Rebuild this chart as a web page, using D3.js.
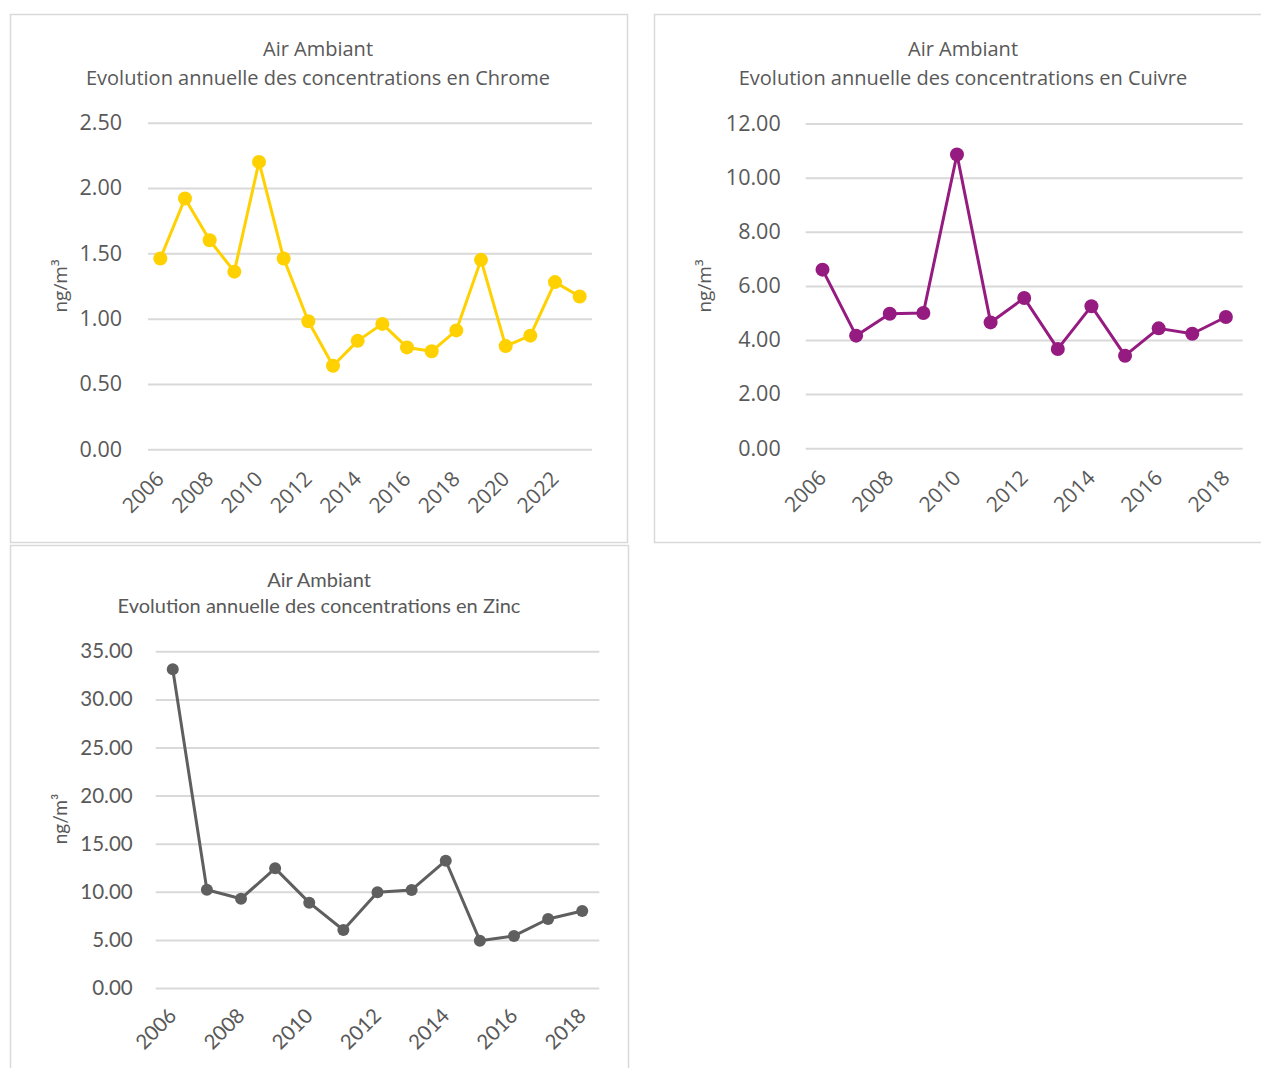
<!DOCTYPE html>
<html lang="fr">
    <head>
        <meta charset="utf-8">
        <title>Air Ambiant - concentrations</title>
        <script src="https://d3js.org/d3.v7.min.js"></script>
        <style>
            body { margin: 0; background: #fff; }
            svg { display: block; }
        </style>
    </head>
    <body>
        <script type="text/javascript">

            //categories (years) for each chart
            var chromeYears = ["2006","2007","2008","2009","2010","2011","2012","2013","2014","2015",
                               "2016","2017","2018","2019","2020","2021","2022","2023"];
            var cuivreYears = ["2006","2007","2008","2009","2010","2011","2012","2013","2014","2015",
                               "2016","2017","2018"];
            var zincYears = ["2006","2007","2008","2009","2010","2011","2012","2013","2014","2015",
                             "2016","2017","2018"];

            //values (ng/m3)
            var chromeValues = [1.46, 1.92, 1.60, 1.36, 2.20, 1.46, 0.98, 0.64, 0.83, 0.96,
                                0.78, 0.75, 0.91, 1.45, 0.79, 0.87, 1.28, 1.17];
            var cuivreValues = [6.60, 4.16, 4.97, 5.00, 10.86, 4.65, 5.55, 3.67, 5.25, 3.42,
                                4.43, 4.23, 4.85];
            var zincValues = [33.13, 10.22, 9.28, 12.44, 8.87, 6.03, 9.95, 10.19, 13.23, 4.92,
                              5.41, 7.17, 8.00];

            //y axis ticks
            var chromeTicks = [0, 0.5, 1.0, 1.5, 2.0, 2.5];
            var cuivreTicks = [0, 2, 4, 6, 8, 10, 12];
            var zincTicks = [0, 5, 10, 15, 20, 25, 30, 35];

            var titleTop = "Air Ambiant";
            var unitLabel = "ng/m\u00B3";

            var textColor = "#595959";
            var gridColor = "#d9d9d9";

            var svg = d3.select("body")
                .append("svg")
                .attr("width", 1261)
                .attr("height", 1068);

            function drawPanel(cfg) {
                //frame around the chart
                svg.append("rect")
                    .attr("x", cfg.box[0] + 0.5)
                    .attr("y", cfg.box[1] + 0.5)
                    .attr("width", cfg.box[2])
                    .attr("height", cfg.box[3])
                    .attr("fill", "#fff")
                    .attr("stroke", "#d9d9d9")
                    .attr("stroke-width", 1.5);

                var g = svg.append("g");

                var xScale = d3.scaleBand()
                    .domain(cfg.years)
                    .range([cfg.left, cfg.right])
                    .padding(0);

                var yScale = d3.scaleLinear()
                    .domain([0, d3.max(cfg.ticks)])
                    .range([cfg.bottom, cfg.top]);

                var half = xScale.bandwidth() / 2;

                //titles
                g.append("text")
                    .text(titleTop)
                    .attr("x", cfg.titleX)
                    .attr("y", cfg.titleY)
                    .attr("text-anchor", "middle")
                    .attr("font-family", cfg.font)
                    .attr("font-size", cfg.titleSize + "px")
                    .attr("fill", textColor);

                g.append("text")
                    .text(cfg.title)
                    .attr("x", cfg.titleX)
                    .attr("y", cfg.titleY + cfg.titleGap)
                    .attr("text-anchor", "middle")
                    .attr("font-family", cfg.font)
                    .attr("font-size", cfg.titleSize + "px")
                    .attr("fill", textColor);

                //y axis with grid lines
                var yAxis = g.append("g")
                    .attr("transform", "translate(" + cfg.left + ",0)")
                    .call(d3.axisLeft(yScale)
                        .tickValues(cfg.ticks)
                        .tickFormat(d3.format(".2f"))
                        .tickSize(-(cfg.right - cfg.left))
                        .tickPadding(cfg.tickPad));

                yAxis.select(".domain").remove();
                yAxis.selectAll(".tick line")
                    .attr("stroke", gridColor)
                    .attr("stroke-width", 2);
                yAxis.selectAll(".tick text")
                    .attr("fill", textColor)
                    .attr("font-family", cfg.font)
                    .attr("font-size", cfg.tickSize + "px");

                //x axis, labels every other year
                var xAxis = g.append("g")
                    .attr("transform", "translate(0," + cfg.bottom + ")")
                    .call(d3.axisBottom(xScale)
                        .tickValues(cfg.years.filter(function(d, i) { return i % 2 == 0; }))
                        .tickSize(0));

                xAxis.select(".domain").remove();
                xAxis.selectAll(".tick text")
                    .attr("x", 0)
                    .attr("y", 0)
                    .attr("dy", 0)
                    .attr("text-anchor", "end")
                    .attr("transform", "translate(" + cfg.labelDx + "," + cfg.labelDy + ") rotate(-45)")
                    .attr("fill", textColor)
                    .attr("font-family", cfg.font)
                    .attr("font-size", cfg.xTickSize + "px");

                //unit label
                g.append("text")
                    .text(unitLabel)
                    .attr("text-anchor", "middle")
                    .attr("transform", "translate(" + cfg.unitX + "," + cfg.unitY + ") rotate(-90)")
                    .attr("font-family", cfg.font)
                    .attr("font-size", cfg.unitSize + "px")
                    .attr("fill", textColor);

                //line and markers
                var line = d3.line()
                    .x(function(d, i) { return xScale(cfg.years[i]) + half; })
                    .y(function(d) { return yScale(d); });

                g.append("path")
                    .datum(cfg.values)
                    .attr("d", line)
                    .attr("fill", "none")
                    .attr("stroke", cfg.color)
                    .attr("stroke-width", cfg.lineWidth)
                    .attr("stroke-linejoin", "round");

                g.selectAll(".dot")
                    .data(cfg.values)
                    .enter()
                    .append("circle")
                    .attr("class", "dot")
                    .attr("cx", function(d, i) { return xScale(cfg.years[i]) + half; })
                    .attr("cy", function(d) { return yScale(d); })
                    .attr("r", cfg.radius)
                    .attr("fill", cfg.color);
            }

            drawPanel({
                box: [10, 14, 617, 528],
                left: 148, right: 592, top: 122.7, bottom: 449.3,
                years: chromeYears, values: chromeValues, ticks: chromeTicks,
                title: "Evolution annuelle des concentrations en Chrome",
                titleX: 318, titleY: 56, titleGap: 29, titleSize: 20,
                font: "'Open Sans', sans-serif",
                tickSize: 21.5, tickPad: 26, xTickSize: 21, labelDx: 5, labelDy: 31,
                unitX: 67, unitY: 286, unitSize: 19,
                color: "#FFD100", lineWidth: 3, radius: 7
            });

            drawPanel({
                box: [654, 14, 620, 528],
                left: 805.7, right: 1242.7, top: 123.6, bottom: 448.2,
                years: cuivreYears, values: cuivreValues, ticks: cuivreTicks,
                title: "Evolution annuelle des concentrations en Cuivre",
                titleX: 963, titleY: 56, titleGap: 29, titleSize: 20,
                font: "'Open Sans', sans-serif",
                tickSize: 21.5, tickPad: 25, xTickSize: 21, labelDx: 5, labelDy: 31,
                unitX: 711, unitY: 286, unitSize: 19,
                color: "#951B81", lineWidth: 3, radius: 7
            });

            drawPanel({
                box: [10, 545, 618, 540],
                left: 155.7, right: 599.3, top: 651.3, bottom: 988,
                years: zincYears, values: zincValues, ticks: zincTicks,
                title: "Evolution annuelle des concentrations en Zinc",
                titleX: 319, titleY: 587, titleGap: 26, titleSize: 20,
                font: "Lato, sans-serif",
                tickSize: 20.5, tickPad: 23, xTickSize: 20.5, labelDx: 5, labelDy: 29,
                unitX: 67, unitY: 819, unitSize: 19,
                color: "#5F5F5F", lineWidth: 3, radius: 6
            });

        </script>
    </body>
</html>
